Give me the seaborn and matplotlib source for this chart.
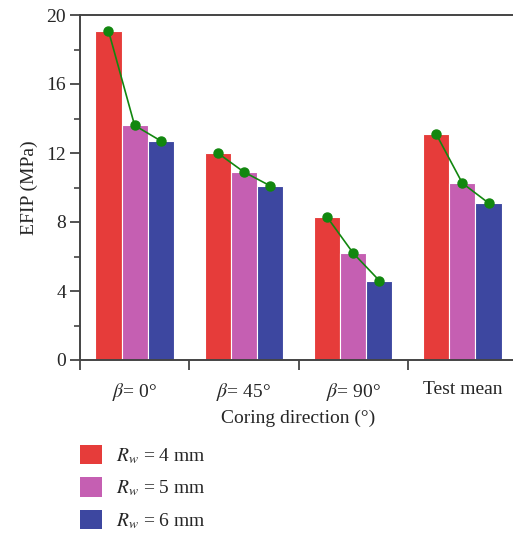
import matplotlib
matplotlib.use("Agg")
import matplotlib.pyplot as plt
import seaborn as sns
import pandas as pd
from matplotlib.patches import Patch

categories = [r"$\beta$= 0°", r"$\beta$= 45°", r"$\beta$= 90°", "Test mean"]
series_names = [r"$R_w$ = 4 mm", r"$R_w$ = 5 mm", r"$R_w$ = 6 mm"]
rw4 = [19.1, 12.0, 8.3, 13.1]
rw5 = [13.6, 10.9, 6.2, 10.25]
rw6 = [12.7, 10.1, 4.6, 9.1]
yticks = [0, 4, 8, 12, 16, 20]

colors = ["#E63C3A", "#C55FB2", "#3D47A0"]
green = "#12870F"

sns.set_style("white")
plt.rcParams["font.family"] = ["Liberation Serif", "DejaVu Serif"]
plt.rcParams["mathtext.fontset"] = "stix"

rows = []
for name, vals in zip(series_names, [rw4, rw5, rw6]):
    for c, v in zip(categories, vals):
        rows.append({"cat": c, "series": name, "value": v})
df = pd.DataFrame(rows)

fig = plt.figure(figsize=(5.13, 5.40), dpi=100)
ax = fig.add_axes([80/513, 1-360/540, 437/513, 345/540])

sns.barplot(data=df, x="cat", y="value", hue="series", order=categories,
            hue_order=series_names, palette=colors, width=0.72,
            edgecolor="white", linewidth=0.8, saturation=1, ax=ax, legend=False)

# green connector lines over bar tops within each group
patches = [p for p in ax.patches if p.get_height() > 0]
n_cat = len(categories)
n_ser = len(series_names)
for ci in range(n_cat):
    xs, ys = [], []
    for si in range(n_ser):
        p = patches[si * n_cat + ci]
        xs.append(p.get_x() + p.get_width() / 2)
        ys.append(p.get_height())
    order = sorted(range(n_ser), key=lambda i: xs[i])
    ax.plot([xs[i] for i in order], [ys[i] for i in order], color=green,
            lw=1.2, marker="o", ms=6.5, mfc=green, mec=green, zorder=5)

ax.set_xlim(-0.5, n_cat - 0.5)
ax.set_ylim(0, 20)
ax.set_yticks(yticks)
ax.set_yticks([2, 6, 10, 14, 18], minor=True)
ax.set_xticks([-0.5, 0.5, 1.5, 2.5])
ax.set_xticklabels([])
ax.set_xticks(range(n_cat), minor=True)
ax.set_xticklabels(categories, minor=True)

spc = "#444444"
for s in ["left", "bottom", "top", "right"]:
    ax.spines[s].set_color(spc)
    ax.spines[s].set_linewidth(1.4)
ax.tick_params(axis="both", which="major", direction="out", length=7, width=1.3,
               color=spc, labelsize=14, pad=3, left=True, bottom=True)
ax.tick_params(axis="y", which="minor", direction="out", length=4, width=1.2,
               color=spc, left=True)
ax.tick_params(axis="x", which="minor", length=0, labelsize=14, pad=15)
ax.set_xlabel("Coring direction (°)", fontsize=14, labelpad=5)
ax.set_ylabel("EFIP (MPa)", fontsize=14, labelpad=6)

handles = [Patch(facecolor=c, edgecolor="none") for c in colors]
fig.legend(handles, series_names, loc="upper left", bbox_to_anchor=(72/513, 1-437/540),
           frameon=False, fontsize=14, handlelength=1.15, handleheight=1.15,
           handletextpad=0.7, labelspacing=0.6, borderaxespad=0)

fig.savefig("out.png", dpi=100)
